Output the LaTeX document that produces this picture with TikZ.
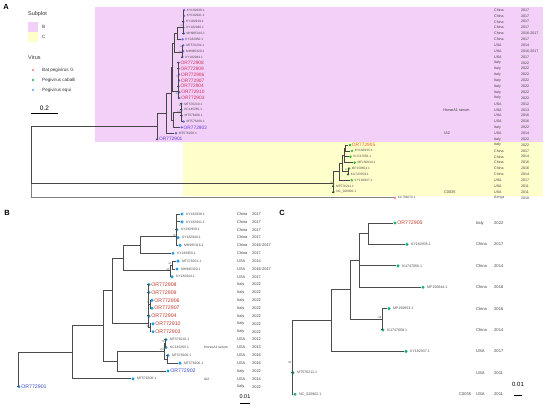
\documentclass[tikz,border=0pt]{standalone}
\usepackage{fontspec}
\setmainfont{Liberation Sans}

\definecolor{subB}{HTML}{F3D0F8}
\definecolor{subC}{HTML}{FFFFCC}
\definecolor{batpgv}{HTML}{F8766D}
\definecolor{cabpgv}{HTML}{00BA38}
\definecolor{equpgv}{HTML}{619CFF}
\definecolor{equA}{HTML}{5A6EF0}
\definecolor{cabA}{HTML}{2DB82D}
\definecolor{redA}{HTML}{D0305A}
\definecolor{orangeA}{HTML}{E8602C}
\definecolor{blueA}{HTML}{5B3FD6}
\definecolor{equB}{HTML}{1F9FE5}
\definecolor{cabC}{HTML}{19B07F}
\definecolor{redB}{HTML}{C0392B}
\definecolor{blueB}{HTML}{3949C8}

% one tip: dot and its label
\newcommand{\tip}[5]{%
  \node[tipdot] (#1) at (#2,#3) {};
  \node[#5, anchor=west] (#1t) at (#1.east) {#4};}

% Pegivirus equi clade (x: tree units, y: row)
\newcommand{\equitree}{%
  \tip{l0}{164}{0}{KY182938.1}{acc}
  \tip{l1}{164}{1}{KY182941.1}{acc}
  \tip{l2}{159}{2}{KY182939.1}{acc}
  \tip{l3}{160}{3}{KY182940.1}{acc}
  \tip{l4}{162}{4}{MH985316.1}{acc}
  \tip{l5}{155}{5}{KY182950.1}{acc}
  \tip{l6}{160}{6}{MT576201.1}{acc}
  \tip{l7}{159}{7}{MH985320.1}{acc}
  \tip{l8}{154}{8}{KY182944.1}{acc}
  \tip{l9}{131}{9}{OR772908}{orred}
  \tip{l10}{131}{10}{OR772909}{orred}
  \tip{l11}{134}{11}{OR772906}{orred}
  \tip{l12}{134}{12}{OR772907}{orred}
  \tip{l13}{131}{13}{OR772904}{orred}
  \tip{l14}{135}{14}{OR772910}{orred}
  \tip{l15}{135}{15}{OR772903}{orred}
  \tip{l16}{148}{16}{MT576210.1}{acc}
  \tip{l17}{148}{17}{KC145265.1}{acc}
  \tip{l18}{150}{18}{MT576200.1}{acc}
  \tip{l19}{162}{19}{MT576206.1}{acc}
  \tip{l20}{150}{20}{OR772902}{orblue}
  \tip{l21}{115}{21}{MT576208.1}{acc}
  \tip{l22}{1}{22}{OR772901}{orblue}
  \coordinate (n04) at (158,2.9);
  \coordinate (n05) at (122,3.95);
  \coordinate (n67) at (154,6.5);
  \coordinate (n68) at (152,7.25);
  \coordinate (n08) at (105,5.6);
  \coordinate (n1112) at (132,11.5);
  \coordinate (n1415) at (132,14.5);
  \coordinate (nOR) at (130,13.9);
  \coordinate (n916) at (94,9.75);
  \coordinate (nH1) at (147,16.5);
  \coordinate (nH3) at (149,18.5);
  \coordinate (nH2) at (146.5,17.5);
  \coordinate (n1620) at (99,18.75);
  \coordinate (n920) at (85,14.25);
  \coordinate (n921) at (54,17.6);
  \coordinate (r) at (0,19.8);
  \foreach \p/\c in {n04/l0, n04/l1, n04/l2, n04/l3, n04/l4, n05/n04, n05/l5,
      n67/l6, n67/l7, n68/n67, n68/l8, n08/n05, n08/n68,
      n1112/l11, n1112/l12, n1415/l14, n1415/l15,
      nOR/l9, nOR/l10, nOR/n1112, nOR/l13, nOR/n1415, n916/n08, n916/nOR,
      nH1/l16, nH1/l17, nH3/l18, nH3/l19, nH2/nH1, nH2/nH3,
      n1620/nH2, n1620/l20, n920/n916, n920/n1620, n921/n920, n921/l21,
      r/n921, r/l22}
    \draw[branch] (\p) |- (\c);
  \node[boot] (b04) at (n04) {78};
  \node[boot] (b67) at (n67) {91};
  \node[boot] (b68) at (n68) {96};
  \node[boot] (b1112) at (n1112) {71};
  \node[boot] (b1415) at (n1415) {90};
  \node[boot] (bH1) at (nH1) {78};
  \node[boot] (bH2) at (nH2) {100};}

% Pegivirus caballi clade
\newcommand{\caballitree}{%
  \tip{m0}{103}{0}{OR772905}{orred}
  \tip{m1}{115}{1}{KY182935.1}{acc}
  \tip{m2}{106}{2}{KU747056.1}{acc}
  \tip{m3}{131}{3}{MF150644.1}{acc}
  \tip{m4}{97}{4}{MF150653.1}{acc}
  \tip{m5}{91}{5}{KU747058.1}{acc}
  \tip{m6}{114}{6}{KY182937.1}{acc}
  \tip{m7}{1}{7}{MT576211.1}{acc}
  \tip{m8}{3}{8}{NC\_020902.1}{acc}
  \coordinate (c01) at (76,0.5);
  \coordinate (c03) at (67,1.75);
  \coordinate (c45) at (90,4.5);
  \coordinate (c05) at (58,3.125);
  \coordinate (c06) at (39,4.56);
  \coordinate (c78) at (0,7.5);
  \coordinate (r) at (0,6.6);
  \foreach \p/\c in {c01/m0, c01/m1, c03/c01, c03/m2, c03/m3, c45/m4, c45/m5,
      c05/c03, c05/c45, c06/c05, c06/m6, c78/m7, c78/m8, r/c06, r/c78}
    \draw[branch] (\p) |- (\c);
  \node[boot] (b45) at (c45) {96};
  \node[boot] (br) at (r) {94};}

\newcommand{\equilist}{China/2017, China/2017, China/2017, China/2017, China/2016-2017,
  China/2017, USA/2014, USA/2016-2017, USA/2017, Italy/2022, Italy/2022, Italy/2022,
  Italy/2022, Italy/2022, Italy/2022, Italy/2022, USA/2012, USA/2013, USA/2016,
  USA/2016, Italy/2022, USA/2014, Italy/2022}
\newcommand{\caballilist}{Italy/2022, China/2017, China/2014, China/2016, China/2016,
  China/2014, USA/2017, USA/2011, USA/2011}

\begin{document}
\begin{tikzpicture}[x=1pt, y=-1pt,
    branch/.style={draw=black!72, line width=0.6pt},
    panel/.style={font=\bfseries\fontsize{7.5}{8}\selectfont, inner sep=0pt},
    legtitle/.style={anchor=west, inner sep=0pt, font=\fontsize{5.5}{6}\selectfont, text=black!80},
    legtxt/.style={anchor=west, inner sep=0pt, font=\fontsize{4.6}{5}\selectfont, text=black!80},
    legbox/.style={inner sep=0pt, minimum width=9.5pt, minimum height=10pt},
    legdot/.style={circle, inner sep=0pt, minimum size=2.2pt},
    ctry/.style={anchor=west, inner sep=0pt, text=black!75},
    note/.style={anchor=west, inner sep=0pt, text=black!75}]
\useasboundingbox (0,0) rectangle (550,407);

% ---------------- A ----------------
\node[panel] (labA) at (6,7) {A};
\fill[subB] (95,7) rectangle (543,142);
\fill[subC] (183,142) rectangle (543,196);

% legend
\node[legtitle] (subT) at (28,14) {Subplot};
\node[legbox, fill=subB] (keyB) at (33,26.5) {};
\node[legtxt] (keyBt) at (42,26.5) {B};
\node[legbox, fill=subC] (keyC) at (33,36.8) {};
\node[legtxt] (keyCt) at (42,36.8) {C};
\node[legtitle] (virT) at (28,58) {Virus};
\node[legdot, fill=batpgv] (kBat) at (33,70) {};
\node[legtxt] (kBatt) at (42,70) {Bat pegivirus G};
\node[legdot, fill=cabpgv] (kCab) at (33,80) {};
\node[legtxt] (kCabt) at (42,80) {Pegivirus caballi};
\node[legdot, fill=equpgv] (kEqu) at (33,90) {};
\node[legtxt] (kEqut) at (42,90) {Pegivirus equi};
\node[font=\fontsize{6.5}{7}\selectfont, inner sep=0pt] (sbA) at (44.5,108) {0.2};
\coordinate (sbA1) at (31,113);
\coordinate (sbA2) at (58,113);
\draw[line width=0.6pt] (sbA1) -- (sbA2);

% top branch
\begin{scope}[shift={(157,10)}, xscale=0.165, yscale=5.87, name prefix=A-,
    tipdot/.style={circle, fill=equA, inner sep=0pt, minimum size=2.6pt},
    acc/.style={font=\fontsize{3.2}{3.5}\selectfont, text=black!70, inner xsep=1.2pt, inner ysep=0pt},
    orred/.style={font=\fontsize{4.8}{5}\selectfont, text=redA, inner xsep=0.3pt, inner ysep=0pt},
    orblue/.style={font=\fontsize{4.8}{5}\selectfont, text=blueA, inner xsep=0.3pt, inner ysep=0pt},
    boot/.style={font=\fontsize{2}{2}\selectfont, text=black!70, anchor=south east, inner sep=0.2pt}]
  \equitree
\end{scope}
% middle branch
\begin{scope}[shift={(333,145)}, xscale=0.165, yscale=5.87, name prefix=Ac-,
    tipdot/.style={circle, fill=cabA, inner sep=0pt, minimum size=2.6pt},
    acc/.style={font=\fontsize{3.2}{3.5}\selectfont, text=black!70, inner xsep=1.2pt, inner ysep=0pt},
    orred/.style={font=\fontsize{4.8}{5}\selectfont, text=orangeA, inner xsep=0.3pt, inner ysep=0pt},
    boot/.style={font=\fontsize{2}{2}\selectfont, text=black!70, anchor=south east, inner sep=0.2pt}]
  \caballitree
\end{scope}
% bat outgroup and root
\node[circle, fill=batpgv, inner sep=0pt, minimum size=2.6pt] (kenya) at (395,197.8) {};
\node[anchor=west, inner xsep=1.2pt, inner ysep=0pt, font=\fontsize{3.2}{3.5}\selectfont, text=black!70] (kenyat) at (kenya.east) {KC796076.1};
\coordinate (Aroot) at (31,160);
\draw[branch, draw=black!50, line width=0.9pt] (Aroot) |- (kenya);
\draw[branch] (Aroot) |- (A-r);
\draw[branch] (Aroot) |- (Ac-r);

\foreach \cty/\yr [count=\i from 0] in \equilist {
  \node[ctry, font=\fontsize{3.6}{4}\selectfont] (Acb\i) at (494,10+5.87*\i) {\cty};
  \node[ctry, font=\fontsize{3.6}{4}\selectfont] (Ayb\i) at (521,10+5.87*\i) {\yr};
}
\foreach \cty/\yr [count=\i from 0] in \caballilist {
  \node[ctry, font=\fontsize{3.6}{4}\selectfont] (Acc\i) at (494,145+5.87*\i) {\cty};
  \node[ctry, font=\fontsize{3.6}{4}\selectfont] (Ayc\i) at (521,145+5.87*\i) {\yr};
}
\node[ctry, font=\fontsize{3.6}{4}\selectfont] (Ack) at (494,197.8) {Kenya};
\node[ctry, font=\fontsize{3.6}{4}\selectfont] (Ayk) at (521,197.8) {2010};
\node[note, font=\fontsize{3.8}{4}\selectfont] (Ahorse) at (443,109.8) {HorseA1 serum};
\node[note, font=\fontsize{3.8}{4}\selectfont] (Aia) at (444,133.3) {IA2};
\node[note, font=\fontsize{3.8}{4}\selectfont] (Acz) at (444,192) {C0035};

% ---------------- B ----------------
\node[panel] (labB) at (7,213) {B};
\begin{scope}[shift={(18,214)}, yscale=7.85, name prefix=B-,
    branch/.style={draw=black!70, line width=0.8pt},
    tipdot/.style={circle, fill=equB, inner sep=0pt, minimum size=3.4pt},
    acc/.style={font=\fontsize{3.4}{4}\selectfont, text=black!70, inner xsep=2pt, inner ysep=0pt},
    orred/.style={font=\fontsize{5.2}{6}\selectfont, text=redB, inner xsep=0.3pt, inner ysep=0pt},
    orblue/.style={font=\fontsize{5.2}{6}\selectfont, text=blueB, inner xsep=0.3pt, inner ysep=0pt},
    boot/.style={font=\fontsize{2.6}{3}\selectfont, text=black!70, anchor=south east, inner sep=0.3pt}]
  \equitree
\end{scope}
\foreach \cty/\yr [count=\i from 0] in \equilist {
  \node[ctry, font=\fontsize{3.9}{4}\selectfont] (Bc\i) at (237,214+7.85*\i) {\cty};
  \node[ctry, font=\fontsize{3.9}{4}\selectfont] (By\i) at (252,214+7.85*\i) {\yr};
}
\node[note, font=\fontsize{3.4}{4}\selectfont] (Bhorse) at (204,347.5) {HorseA1 serum};
\node[note, font=\fontsize{3.4}{4}\selectfont] (Bia) at (204,378.9) {IA2};
\node[font=\fontsize{5.5}{6}\selectfont, inner sep=0pt] (sbB) at (245,397) {0.01};
\coordinate (sbB1) at (240,403);
\coordinate (sbB2) at (250,403);
\draw[line width=0.8pt] (sbB1) -- (sbB2);

% ---------------- C ----------------
\node[panel] (labC) at (282,213) {C};
\begin{scope}[shift={(292,223)}, yscale=21.4, name prefix=C-,
    branch/.style={draw=black!70, line width=0.8pt},
    tipdot/.style={circle, fill=cabC, inner sep=0pt, minimum size=3.4pt},
    acc/.style={font=\fontsize{3.6}{4}\selectfont, text=black!70, inner xsep=2pt, inner ysep=0pt},
    orred/.style={font=\fontsize{5.2}{6}\selectfont, text=redB, inner xsep=0.3pt, inner ysep=0pt},
    boot/.style={font=\fontsize{2.8}{3}\selectfont, text=black!70, anchor=south east, inner sep=0.3pt}]
  \caballitree
\end{scope}
\foreach \cty/\yr [count=\i from 0] in \caballilist {
  \node[ctry, font=\fontsize{4.1}{5}\selectfont] (Cc\i) at (476,223+21.4*\i) {\cty};
  \node[ctry, font=\fontsize{4.1}{5}\selectfont] (Cy\i) at (494,223+21.4*\i) {\yr};
}
\node[note, font=\fontsize{4}{5}\selectfont] (Ccz) at (459,394.2) {C0035};
\node[font=\fontsize{6}{7}\selectfont, inner sep=0pt] (sbC) at (518,384) {0.01};
\coordinate (sbC1) at (514,395);
\coordinate (sbC2) at (522,395);
\draw[line width=0.8pt] (sbC1) -- (sbC2);
\end{tikzpicture}
\end{document}
